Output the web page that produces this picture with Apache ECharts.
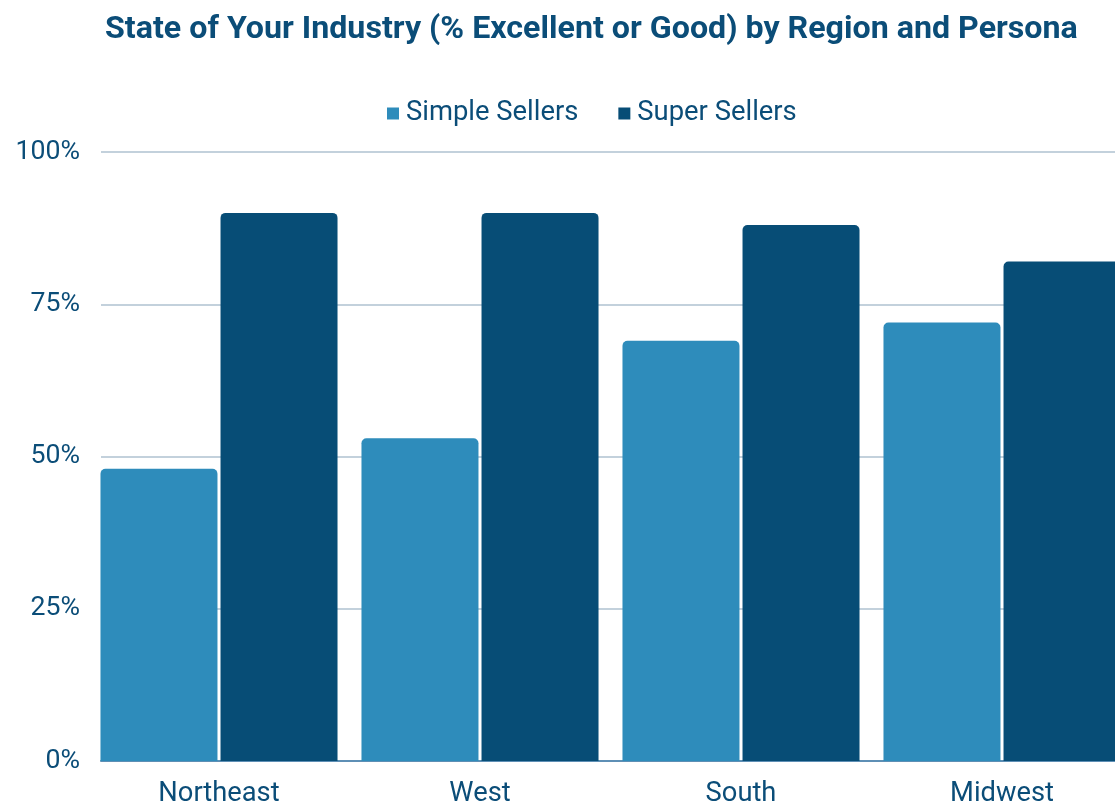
<!DOCTYPE html>
<html><head><meta charset="utf-8">
<script src="https://cdn.jsdelivr.net/npm/echarts@6/dist/echarts.min.js"></script>
<style>html,body{margin:0;padding:0;background:#fff}#c{width:1115px;height:801px}</style>
</head><body><div id="c"></div>
<script>
const categories = ['Northeast', 'West', 'South', 'Midwest'];
const simpleSellers = [48, 53, 69, 72];
const superSellers = [90, 90, 88, 82];
const yTicks = [0, 25, 50, 75, 100];

const textColor = '#0b4d78';
const chart = echarts.init(document.getElementById('c'));
chart.setOption({
  animation: false,
  title: {
    text: 'State of Your Industry (% Excellent or Good) by Region and Persona',
    left: 100, top: 9,
    textStyle: { fontFamily: 'Roboto', fontWeight: 'bold', fontSize: 32.2, color: textColor }
  },
  legend: {
    data: ['Simple Sellers', 'Super Sellers'],
    left: 382, top: 95, itemWidth: 12, itemHeight: 12, itemGap: 40,
    icon: 'rect',
    textStyle: { fontFamily: 'Roboto', fontSize: 27.4, color: textColor, padding: [0, 0, 0, 2] }
  },
  grid: [
    { left: 88.5, top: 152, width: 1044, height: 609, outerBoundsMode: 'none', containLabel: false },
    { left: 101, top: 152, width: 1100, height: 609, outerBoundsMode: 'none', containLabel: false }
  ],
  xAxis: [
    { type: 'category', gridIndex: 0, data: categories,
      axisLine: { show: false }, axisTick: { show: false },
      axisLabel: { fontFamily: 'Roboto', fontSize: 27.3, color: textColor, margin: 20 } },
    { type: 'value', gridIndex: 1, min: 0, max: 1, axisLabel: { show: false }, axisTick: { show: false },
      splitLine: { show: false }, axisLine: { show: true, lineStyle: { color: '#5e8fb5', width: 2 } } }
  ],
  yAxis: [
    { type: 'value', gridIndex: 0, min: 0, max: 100, show: false },
    { type: 'value', gridIndex: 1, min: 0, max: 100, interval: 25,
      axisLine: { show: false }, axisTick: { show: false },
      splitLine: { lineStyle: { color: '#c3d1dc', width: 2 } },
      axisLabel: { formatter: v => yTicks.includes(v) ? v + '%' : '', fontFamily: 'Roboto', fontSize: 26.67, color: textColor, margin: 21 } }
  ],
  series: [
    { name: 'Simple Sellers', type: 'bar', xAxisIndex: 0, yAxisIndex: 0, data: simpleSellers,
      barWidth: 117, barGap: '2.6%', itemStyle: { color: '#2e8cbb', borderRadius: [5, 5, 0, 0] }, z: 3 },
    { name: 'Super Sellers', type: 'bar', xAxisIndex: 0, yAxisIndex: 0, data: superSellers,
      barWidth: 117, barGap: '2.6%', itemStyle: { color: '#074d76', borderRadius: [5, 5, 0, 0] }, z: 3 }
  ]
});
</script></body></html>
